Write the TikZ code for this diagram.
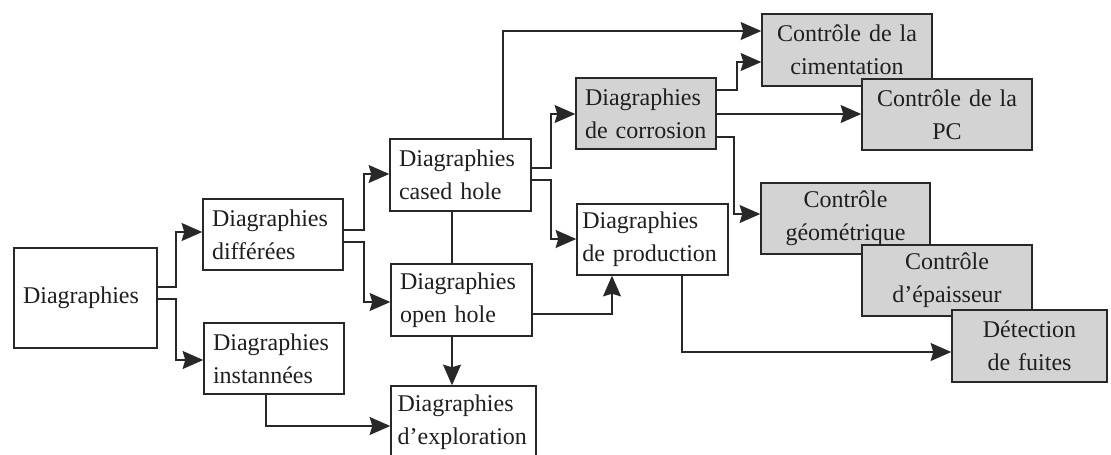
\documentclass[tikz,border=0pt]{standalone}
\usepackage{fontspec}
\setmainfont{Liberation Serif}
\usetikzlibrary{arrows.meta}
\definecolor{boxgray}{RGB}{211,211,211}
\definecolor{ink}{RGB}{40,40,40}
\begin{document}
\begin{tikzpicture}[x=0.75pt,y=-0.75pt,
  base/.style={draw=ink, line width=1.1pt, inner xsep=6.75pt, inner ysep=0pt,
    font=\fontsize{18}{24.5}\selectfont, text=black!88},
  wbox/.style={base, fill=white, align=left},
  gbox/.style={base, fill=boxgray, align=center},
  gboxl/.style={base, fill=boxgray, align=left},
  conn/.style={draw=ink, line width=1.1pt, line join=miter,
    -{Stealth[length=15.5pt,width=13.5pt,inset=2pt]}},
  link/.style={draw=ink, line width=1.1pt}]
\useasboundingbox (0,0) rectangle (1111,454);
\clip (0,0) rectangle (1111,454);
\fill[white] (0,0) rectangle (1111,454);

% boxes
\node[wbox, minimum width=107.25pt, minimum height=75pt, text width=93.75pt] (diag) at (85.5,298) {Diagraphies};
\node[wbox, minimum width=105pt, minimum height=53.25pt, text width=91.5pt] (diff) at (273,234.5) {Diagraphies\\différées};
\node[wbox, minimum width=105pt, minimum height=53.25pt, text width=91.5pt] (inst) at (274,358.5) {Diagraphies\\instannées};
\node[wbox, minimum width=105.75pt, minimum height=54pt, text width=92.25pt] (cased) at (460.5,175) {Diagraphies\\cased hole};
\node[wbox, minimum width=105.75pt, minimum height=54pt, text width=92.25pt] (open) at (461.5,300) {Diagraphies\\open hole};
\node[wbox, minimum width=108.75pt, minimum height=54pt, text width=98.75pt, inner xsep=5pt] (explo) at (463.5,422) {Diagraphies\\d’exploration};
\node[gboxl, minimum width=105pt, minimum height=53.25pt, text width=91.5pt] (corr) at (646,113.5) {Diagraphies\\de corrosion};
\node[wbox, minimum width=113.25pt, minimum height=53.25pt, text width=105.25pt, inner xsep=4pt] (prod) at (652.5,239.5) {Diagraphies\\de production};
\node[gbox, minimum width=127.5pt, minimum height=54pt, text width=114pt] (cim) at (847,50) {Contrôle de la\\cimentation};
\node[gbox, minimum width=127.5pt, minimum height=53.25pt, text width=114pt] (pc) at (947,114.5) {Contrôle de la\\PC};
\node[gbox, minimum width=126.75pt, minimum height=53.25pt, text width=113.25pt] (geom) at (845.5,218.5) {Contrôle\\géométrique};
\node[gbox, minimum width=127.5pt, minimum height=53.25pt, text width=114pt] (ep) at (947,280.5) {Contrôle\\d’épaisseur};
\node[gbox, minimum width=116.25pt, minimum height=54pt, text width=102.75pt] (det) at (1029.5,346) {Détection\\de fuites};

% connectors
\draw[conn] (diag.east |- 0,287) -| (176,232) -- (diff.west |- 0,232);
\draw[conn] (diag.east |- 0,299) -| (176,360) -- (inst.west |- 0,360);
\draw[conn] (diff.east |- 0,230) -| (364,174) -- (cased.west |- 0,174);
\draw[conn] (diff.east |- 0,242) -| (364,302) -- (open.west |- 0,302);
\draw[conn] (inst.south -| 266,0) |- (explo.west |- 0,426);
\draw[conn] (cased.north -| 503,0) |- (cim.west |- 0,31);
\draw[conn] (cased.east |- 0,168) -| (551,114) -- (corr.west |- 0,114);
\draw[conn] (cased.east |- 0,180) -| (551,239) -- (prod.west |- 0,239);
\draw[link] (cased.south -| 452,0) -- (open.north -| 452,0);
\draw[conn] (open.south -| 452,0) -- (explo.north -| 452,0);
\draw[conn] (open.east |- 0,314) -| (prod.south -| 612,0);
\draw[conn] (corr.east |- 0,90) -| (737,62) -- (cim.west |- 0,62);
\draw[conn] (corr.east |- 0,114) -- (pc.west |- 0,114);
\draw[conn] (corr.east |- 0,137) -| (734,214) -- (geom.west |- 0,214);
\draw[conn] (prod.south -| 682,0) |- (det.west |- 0,352);
\end{tikzpicture}
\end{document}
